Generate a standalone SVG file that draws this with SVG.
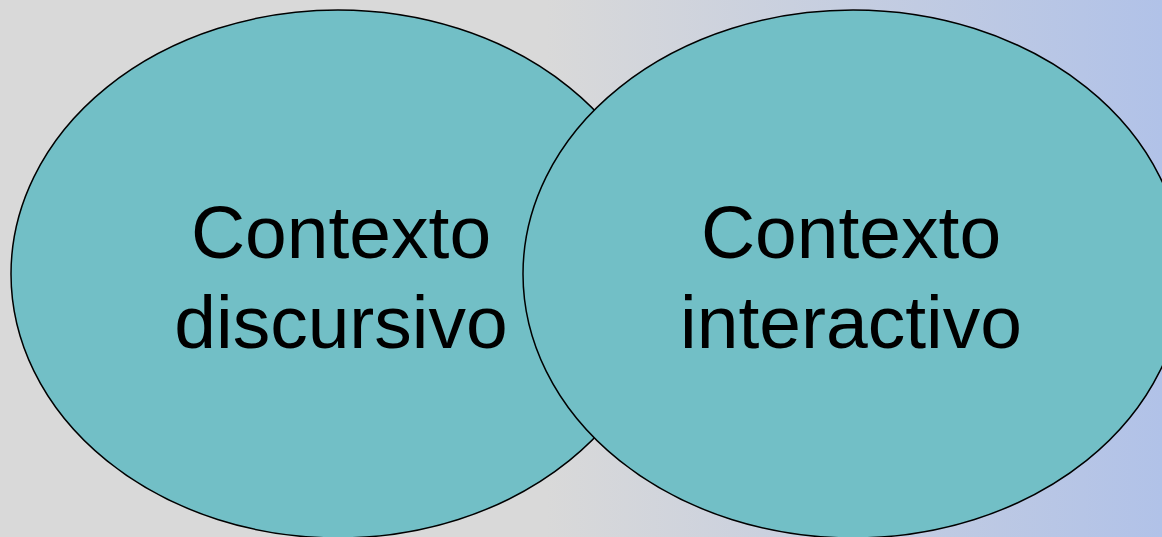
<svg xmlns="http://www.w3.org/2000/svg" width="1162" height="537" viewBox="0 0 1162 537">
  <defs>
    <linearGradient id="bg" gradientUnits="userSpaceOnUse" x1="0" y1="0" x2="1162" y2="0">
      <stop offset="0" stop-color="#d9d9d9"/>
      <stop offset="0.47" stop-color="#d9d9d9"/>
      <stop offset="1" stop-color="#b1c2e8"/>
    </linearGradient>
  </defs>
  <style>
    .oval { fill: #72bfc6; stroke: #000; stroke-width: 1.5; }
    .lbl { font-family: "Liberation Sans", Arial, sans-serif; font-size: 75px; fill: #000; text-anchor: middle; }
  </style>
  <rect x="0" y="0" width="1162" height="537" fill="url(#bg)"/>
  <g id="node-discursivo">
    <ellipse class="oval" cx="338" cy="274" rx="327" ry="264"/>
    <text class="lbl" x="341" y="258">Contexto</text>
    <text class="lbl" x="341" y="348">discursivo</text>
  </g>
  <g id="node-interactivo">
    <ellipse class="oval" cx="853" cy="274" rx="330" ry="264"/>
    <text class="lbl" x="851" y="258">Contexto</text>
    <text class="lbl" x="851" y="348">interactivo</text>
  </g>
  <g id="connectors"/>
</svg>
